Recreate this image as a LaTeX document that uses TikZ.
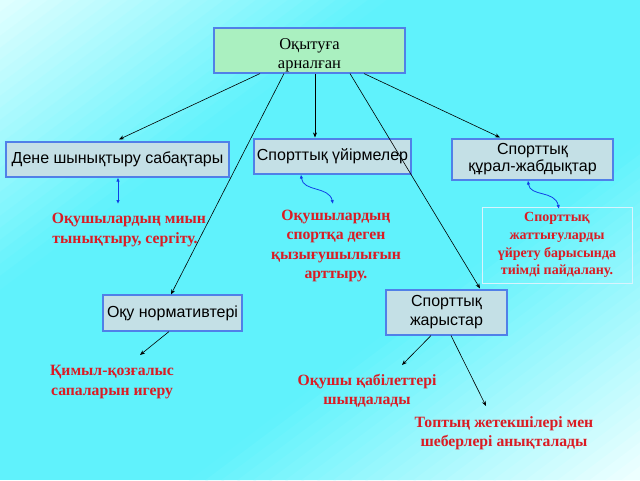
\documentclass[tikz,border=0pt]{standalone}
\usepackage{fontspec}
\setmainfont{Liberation Serif}
\newfontfamily\sansf{Liberation Sans}
\usetikzlibrary{arrows.meta,calc}
\definecolor{bgcyan}{rgb}{0.376,0.949,0.988}
\definecolor{bordblue}{RGB}{80,128,232}
\definecolor{boxfill}{RGB}{196,224,230}
\definecolor{topfill}{RGB}{170,240,192}
\definecolor{redc}{RGB}{218,28,36}
\definecolor{arrblue}{RGB}{16,64,230}
\begin{document}
\begin{tikzpicture}[x=1pt,y=-1pt,
  box/.style={draw=bordblue, line width=1.1pt, fill=boxfill, inner sep=0pt, align=center,
    font=\sansf\fontsize{16}{17}\selectfont},
  redtxt/.style={text=redc, align=center, inner sep=0pt, font=\bfseries\fontsize{15.7}{19.3}\selectfont},
  arr/.style={-{Stealth[length=5pt,width=4pt]}, line width=0.6pt, black},
  barr/.style={{Latex[length=4pt,width=3.5pt]}-{Latex[length=4pt,width=3.5pt]}, arrblue, line width=0.8pt}]
% background: solid cyan, lighter diagonal bands towards top-left and bottom-right corners
\fill[bgcyan] (0,0) rectangle (640,480);
\foreach \i in {0,...,23} {
  \pgfmathsetmacro{\sa}{\i/40}
  \pgfmathsetmacro{\sb}{(\i+1)/40+0.004}
  \pgfmathsetmacro{\fr}{(\i+0.5)/24}
  \pgfmathsetmacro{\cr}{0.886-0.510*\fr}
  \pgfmathsetmacro{\cg}{1-0.051*\fr}
  \pgfmathsetmacro{\cb}{1-0.012*\fr}
  \definecolor{bandcol}{rgb}{\cr,\cg,\cb}
  \fill[bandcol] (640*\sa,0) -- (640*\sb,0) -- (0,480*\sb) -- (0,480*\sa) -- cycle;
}
\foreach \i in {0,...,27} {
  \pgfmathsetmacro{\sa}{0.3+\i/40-0.004}
  \pgfmathsetmacro{\sb}{0.3+(\i+1)/40}
  \pgfmathsetmacro{\fr}{(\i+0.5)/28}
  \pgfmathsetmacro{\cr}{0.376+0.564*\fr}
  \pgfmathsetmacro{\cg}{0.949+0.051*\fr}
  \pgfmathsetmacro{\cb}{0.988+0.012*\fr}
  \definecolor{bandcol}{rgb}{\cr,\cg,\cb}
  \fill[bandcol] (640,480*\sa) -- (640,480*\sb) -- (640*\sb,480) -- (640*\sa,480) -- cycle;
}
\useasboundingbox (0,0) rectangle (640,480);

% boxes
\node[box, fill=topfill, minimum width=191pt, minimum height=45pt,
      font=\fontsize{16.5}{19}\selectfont] (top) at (309.5,50.5)
      {\raisebox{-5pt}[\height][\depth]{\begin{tabular}{@{}c@{}}Оқытуға\\арналған\end{tabular}}};
\node[box, minimum width=223pt, minimum height=35pt] (dene) at (117.5,159.5) {Дене шынықтыру сабақтары};
\node[box, minimum width=157pt, minimum height=35pt] (uyir) at (332.5,156.5) {Спорттық үйірмелер};
\node[box, minimum width=161pt, minimum height=41pt] (qural) at (532.5,159.5) {Спорттық\\құрал-жабдықтар};
\node[box, minimum width=139pt, minimum height=36pt] (oqu) at (172.5,313) {Оқу нормативтері};
\node[box, minimum width=121pt, minimum height=45pt, font=\sansf\fontsize{16}{19}\selectfont] (jarys) at (446.5,312.5) {Спорттық\\жарыстар};

% red texts
\node[redtxt] (t1) at (125,230) {\ \ Оқушылардың миын\\тынықтыру, сергіту.};
\node[redtxt] (t2) at (336,246) {Оқушылардың\\спортқа деген\\қызығушылығын\\арттыру.};
\node[draw=white!85!cyan, line width=0.5pt, minimum width=150pt, minimum height=76pt, inner sep=0pt] (t3box) at (557,245) {};
\node[redtxt, font=\bfseries\fontsize{14}{17.8}\selectfont] (t3) at (t3box.center) {Спорттық\\жаттығуларды\\үйрету барысында\\тиімді пайдалану.};
\node[redtxt] (t4) at (112,382) {Қимыл-қозғалыс\\сапаларын игеру};
\node[redtxt] (t5) at (367,390.5) {Оқушы қабілеттері\\шыңдалады};
\node[redtxt] (t6) at (504,433) {Топтың жетекшілері мен\\шеберлері анықталады};

% arrows from top box
\draw[arr] ([xshift=-49.5pt]top.south) -- ([xshift=1.5pt,yshift=2pt]dene.north);
\draw[arr] ([xshift=-25.5pt]top.south) -- ([xshift=-1.5pt]oqu.north);
\draw[arr] ([xshift=5.5pt]top.south) -- ([xshift=-17.5pt,yshift=1pt]uyir.north);
\draw[arr] ([xshift=40.5pt]top.south) -- ([xshift=33.5pt,yshift=1pt]jarys.north);
\draw[arr] ([xshift=54.5pt]top.south) -- ([xshift=-32.5pt,yshift=1pt]qural.north);

% lower arrows
\coordinate (e4) at (140,355);
\coordinate (e5) at (402,365);
\coordinate (e6) at (486,406);
\draw[arr] ([xshift=-3.5pt]oqu.south) -- (e4);
\draw[arr] ([xshift=-15.5pt]jarys.south) -- (e5);
\draw[arr] ([xshift=4.5pt]jarys.south) -- (e6);

% blue double arrows
\coordinate (b1) at (118,204);
\coordinate (b2) at (333,204);
\coordinate (b3) at (559,209);
\draw[barr] ([xshift=0.5pt]dene.south) -- (b1);
\draw[barr] ([xshift=-31.5pt]uyir.south) .. controls (303,192) and (329,186) .. (b2);
\draw[barr] ([xshift=-4.5pt]qural.south) .. controls (530,197) and (555,190) .. (b3);
\end{tikzpicture}
\end{document}
